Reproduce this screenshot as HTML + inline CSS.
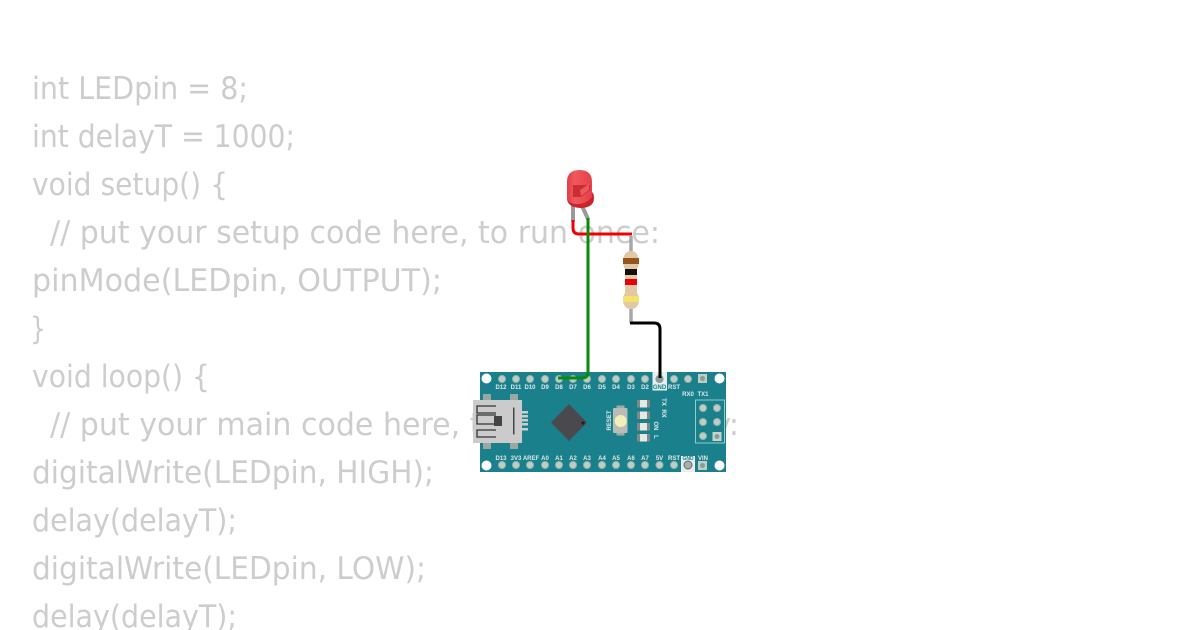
<!DOCTYPE html>
<html><head><meta charset="utf-8"><style>
html,body{margin:0;padding:0;background:#fff;width:1200px;height:630px;overflow:hidden}
svg{display:block}
.c text{font-family:"DejaVu Sans","Liberation Sans",sans-serif;font-size:31px;fill:#cdcdcd;font-weight:400}
.l text{font-family:"Liberation Sans",sans-serif;font-size:6px;font-weight:bold;fill:#dce9e8;text-anchor:middle}
</style></head><body>
<svg width="1200" height="630" viewBox="0 0 1200 630" xmlns="http://www.w3.org/2000/svg">
<defs>
<linearGradient id="ledg" x1="0" y1="0" x2="1" y2="0"><stop offset="0" stop-color="#e23c44"/><stop offset=".3" stop-color="#f0585f"/><stop offset="1" stop-color="#e63f47"/></linearGradient>
</defs>
<g class="c">
<text x="32" y="99" textLength="216" lengthAdjust="spacingAndGlyphs">int LEDpin = 8;</text>
<text x="32" y="147" textLength="263" lengthAdjust="spacingAndGlyphs">int delayT = 1000;</text>
<text x="32" y="195" textLength="196" lengthAdjust="spacingAndGlyphs">void setup() {</text>
<text x="50" y="243" textLength="610" lengthAdjust="spacingAndGlyphs">// put your setup code here, to run once:</text>
<text x="32" y="291" textLength="410" lengthAdjust="spacingAndGlyphs">pinMode(LEDpin, OUTPUT);</text>
<text x="30" y="339" textLength="16" lengthAdjust="spacingAndGlyphs">}</text>
<text x="32" y="387" textLength="178" lengthAdjust="spacingAndGlyphs">void loop() {</text>
<text x="50" y="435" textLength="689" lengthAdjust="spacingAndGlyphs">// put your main code here, to run repeatedly:</text>
<text x="32" y="483" textLength="402" lengthAdjust="spacingAndGlyphs">digitalWrite(LEDpin, HIGH);</text>
<text x="32" y="531" textLength="205" lengthAdjust="spacingAndGlyphs">delay(delayT);</text>
<text x="32" y="579" textLength="394" lengthAdjust="spacingAndGlyphs">digitalWrite(LEDpin, LOW);</text>
<text x="32" y="627" textLength="205" lengthAdjust="spacingAndGlyphs">delay(delayT);</text>
</g>

<!-- board -->
<rect x="480" y="372" width="246" height="100" fill="#1a808c"/>
<circle cx="486.500" cy="378.500" r="5" fill="#fff"/>
<circle cx="486.500" cy="465.500" r="5" fill="#fff"/>
<circle cx="719.500" cy="378.500" r="5" fill="#fff"/>
<circle cx="719.500" cy="465.500" r="5" fill="#fff"/>
<rect x="652.500" y="372" width="14.500" height="18.500" fill="#e6eeee"/>
<rect x="681" y="456" width="14" height="16" fill="#e6eeee"/>
<g fill="#bfcdc4" stroke="#93b3aa" stroke-width="1">
<circle cx="502" cy="379" r="3.500"/><circle cx="516" cy="379" r="3.500"/><circle cx="530" cy="379" r="3.500"/><circle cx="545" cy="379" r="3.500"/><circle cx="559" cy="379" r="3.500"/><circle cx="573" cy="379" r="3.500"/><circle cx="587" cy="379" r="3.500"/><circle cx="602" cy="379" r="3.500"/><circle cx="616" cy="379" r="3.500"/><circle cx="631" cy="379" r="3.500"/><circle cx="645" cy="379" r="3.500"/><circle cx="659.500" cy="379" r="3.500"/><circle cx="674" cy="379" r="3.500"/><circle cx="688" cy="379" r="3.500"/>
<circle cx="502" cy="465" r="3.500"/><circle cx="516" cy="465" r="3.500"/><circle cx="530" cy="465" r="3.500"/><circle cx="545" cy="465" r="3.500"/><circle cx="559" cy="465" r="3.500"/><circle cx="573" cy="465" r="3.500"/><circle cx="587" cy="465" r="3.500"/><circle cx="602" cy="465" r="3.500"/><circle cx="616" cy="465" r="3.500"/><circle cx="631" cy="465" r="3.500"/><circle cx="645" cy="465" r="3.500"/><circle cx="659.500" cy="465" r="3.500"/><circle cx="674" cy="465" r="3.500"/><circle cx="688" cy="465" r="3.500"/>
<circle cx="703" cy="408" r="3.500"/><circle cx="717" cy="408" r="3.500"/><circle cx="703" cy="422" r="3.500"/><circle cx="717" cy="422" r="3.500"/><circle cx="703" cy="436" r="3.500"/>
</g>
<rect x="698" y="374" width="9" height="9" fill="#bfcdc4"/><circle cx="702.500" cy="378.500" r="2.500" fill="#8a9c98"/>
<rect x="698" y="461" width="9" height="9" fill="#bfcdc4"/><circle cx="702.500" cy="465.500" r="2.500" fill="#8a9c98"/>
<rect x="712.500" y="432" width="9" height="9" fill="#c8d4c8"/><circle cx="717" cy="436.500" r="2.500" fill="#8a9c98"/>
<rect x="695.500" y="400" width="29" height="43" fill="none" stroke="#8fcccc" stroke-width="1"/>
<circle cx="659.500" cy="379" r="4" fill="#8a9c98"/>
<circle cx="688" cy="465" r="4" fill="#a8b0a8" stroke="#667" stroke-width="1"/>
<g class="l">
<text x="501" y="389">D12</text><text x="516" y="389">D11</text><text x="530" y="389">D10</text><text x="545" y="389">D9</text><text x="559" y="389">D8</text><text x="573" y="389">D7</text><text x="587" y="389">D6</text><text x="602" y="389">D5</text><text x="616" y="389">D4</text><text x="631" y="389">D3</text><text x="645" y="389">D2</text><text x="659.500" y="389" style="fill:#177f8e">GND</text><text x="674" y="389">RST</text><text x="688" y="396">RX0</text><text x="703" y="396">TX1</text>
<text x="501" y="460">D13</text><text x="516" y="460">3V3</text><text x="531" y="460">AREF</text><text x="545" y="460">A0</text><text x="559" y="460">A1</text><text x="573" y="460">A2</text><text x="587" y="460">A3</text><text x="602" y="460">A4</text><text x="616" y="460">A5</text><text x="631" y="460">A6</text><text x="645" y="460">A7</text><text x="659.500" y="460">5V</text><text x="674" y="460">RST</text><text x="688" y="460" style="fill:#177f8e;font-size:5px">GND</text><text x="703" y="460">VIN</text>
<text transform="translate(662,402) rotate(90)">TX</text>
<text transform="translate(662,413.500) rotate(90)">RX</text>
<text transform="translate(654,426) rotate(90)">ON</text>
<text transform="translate(654,437) rotate(90)">L</text>
<text transform="translate(611,420.500) rotate(-90)">RESET</text>
</g>
<!-- USB -->
<rect x="483" y="394" width="8" height="6" fill="#9aa8a4"/><rect x="510" y="394" width="8" height="6" fill="#9aa8a4"/>
<rect x="483" y="443" width="8" height="6" fill="#9aa8a4"/><rect x="510" y="443" width="8" height="6" fill="#9aa8a4"/>
<rect x="522" y="411" width="6" height="2.500" fill="#c8cfcc"/><rect x="522" y="415" width="6" height="2.500" fill="#c8cfcc"/><rect x="522" y="419" width="6" height="2.500" fill="#c8cfcc"/><rect x="522" y="423" width="6" height="2.500" fill="#c8cfcc"/><rect x="522" y="428" width="6" height="2.500" fill="#c8cfcc"/>
<rect x="473" y="400" width="49" height="43" fill="#cbcbcb"/>
<path d="M496 406H477V413H496M496 415H477V424H501V417M496 437H477V430H496" fill="none" stroke="#333" stroke-width="1.300"/>
<rect x="494" y="416" width="8" height="10" fill="#444"/>
<rect x="513" y="407.500" width="1.500" height="27" fill="#444"/>
<!-- chip -->
<polygon points="569,404 587,422.500 569,441 551,422.500" fill="#4a4a4e"/>
<circle cx="583" cy="423" r="1.600" fill="#222"/>
<!-- reset -->
<rect x="616.500" y="405.500" width="8" height="30" fill="#a0aaa6"/>
<rect x="613" y="408" width="14.500" height="25" rx="1" fill="#b9bdb8"/>
<circle cx="620.700" cy="421" r="6" fill="#f3efb8"/>
<!-- LEDs small -->
<g fill="#e8e8e4">
<rect x="637" y="400" width="13" height="7.500"/><rect x="637" y="411.500" width="13" height="7.500"/><rect x="637" y="423" width="13" height="7.500"/><rect x="637" y="434" width="13" height="7.500"/>
</g>
<g fill="#7f8a88">
<rect x="637" y="400" width="3" height="7.500"/><rect x="647" y="400" width="3" height="7.500"/><rect x="637" y="411.500" width="3" height="7.500"/><rect x="647" y="411.500" width="3" height="7.500"/><rect x="637" y="423" width="3" height="7.500"/><rect x="647" y="423" width="3" height="7.500"/><rect x="637" y="434" width="3" height="7.500"/><rect x="647" y="434" width="3" height="7.500"/>
</g>

<!-- LED -->
<path d="M573 205V222M582 206L588 219" fill="none" stroke="#9a9a9a" stroke-width="4"/>
<path d="M567 198Q567 207 580 208Q594 208 594 198Q594 193 591 191V195H567Z" fill="#cc2229"/>
<path d="M567 199V182Q567 170 579.500 170Q592 170 592 182V197Q585 205 575 204Q569 203 567 199Z" fill="url(#ledg)"/>
<path d="M573 185H590V190L581 197H573Z" fill="#cb2d34"/>
<path d="M580 190L589 184V190L581 196Z" fill="#e8585c"/>

<!-- resistor -->
<path d="M631 236V256M631 304V323" stroke="#a8a8a8" stroke-width="3.500" fill="none"/>
<path d="M623 261Q624 251 631 251Q638 251 639 261Q639 266 637 269V293Q639 296 639 301Q638 309 631 309Q624 309 623 301Q623 296 625 293V269Q623 266 623 261Z" fill="#e3c8a6"/>
<rect x="623" y="258" width="16" height="6" fill="#95551f"/>
<rect x="625" y="269" width="12" height="6" fill="#111"/>
<rect x="625" y="279" width="12" height="6" fill="#e8000b"/>
<rect x="623" y="296" width="16" height="6" fill="#f4e26a"/>

<!-- wires -->
<path d="M573 220V228Q573 234 579 234H632" fill="none" stroke="#f00000" stroke-width="3"/>
<path d="M588 218V372Q588 378 582 378H558" fill="none" stroke="#0a8a0a" stroke-width="3"/>
<path d="M630 323H654Q660 323 660 329V378" fill="none" stroke="#000" stroke-width="3"/>
</svg>
</body></html>
